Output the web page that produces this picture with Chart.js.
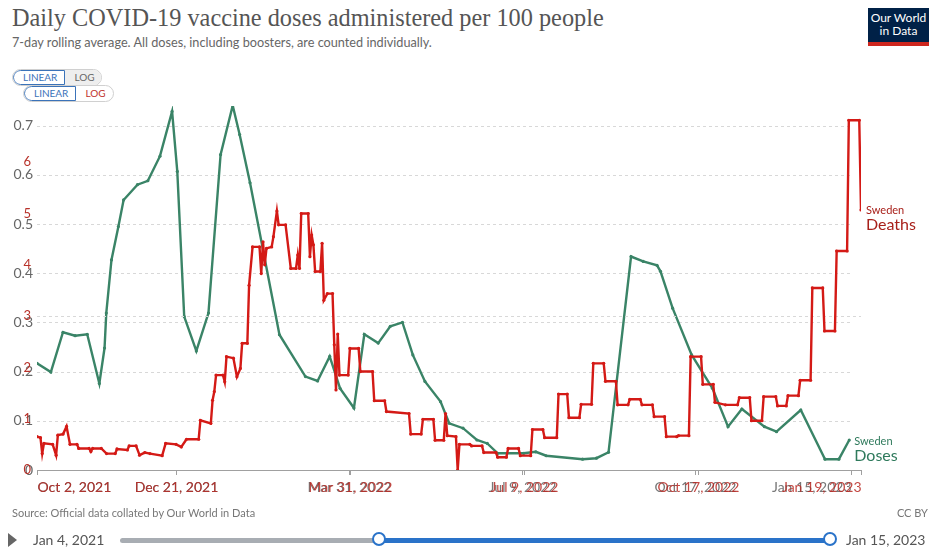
<!DOCTYPE html>
<html>
<head>
<meta charset="utf-8">
<title>Daily COVID-19 vaccine doses administered per 100 people</title>
<script src="https://cdn.jsdelivr.net/npm/chart.js@4.4.0/dist/chart.umd.min.js"></script>
<style>
  body { margin: 0; background: #fff; font-family: Lato, sans-serif; }
  #wrap { position: relative; width: 940px; height: 558px; overflow: hidden; }
  #wrap canvas { position: absolute; left: 0; top: 0; }
  .title { position: absolute; left: 12px; top: 4px; font-family: "Liberation Serif", "DejaVu Serif", serif; font-size: 24.3px; color: #555; white-space: nowrap; }
  .subtitle { position: absolute; left: 12px; top: 34px; font-size: 12.7px; color: #666; white-space: nowrap; }
  .logo { position: absolute; left: 868px; top: 8px; width: 61px; height: 31px; background: #002147; border-bottom: 4px solid #ce261e; color: #fff; font-size: 12px; line-height: 13px; text-align: center; padding-top: 3px; box-sizing: content-box; }
  .toggle { position: absolute; height: 17px; border: 1px solid #d0d0d0; border-radius: 9px; display: flex; font-size: 10px; overflow: hidden; box-sizing: border-box; }
  .toggle .lin { border: 1px solid #3b73b9; border-radius: 9px 0 0 9px; color: #3b73b9; padding: 0 7px 0 9px; line-height: 13px; }
  .toggle .log { padding: 0 9px; line-height: 15px; }
  .source { position: absolute; left: 12px; top: 506px; font-size: 11px; color: #777; }
  .ccby { position: absolute; right: 12px; top: 506px; font-size: 11px; color: #777; }
  .play { position: absolute; left: 8px; top: 533px; width: 0; height: 0; border-left: 9px solid #666; border-top: 7px solid transparent; border-bottom: 7px solid transparent; }
  .date { position: absolute; top: 531px; font-size: 14px; color: #555; }
  .track { position: absolute; top: 538px; height: 5px; border-radius: 3px; }
  .knob { position: absolute; top: 532px; width: 14px; height: 14px; border: 2px solid #2a73c9; border-radius: 50%; background: #fff; box-sizing: border-box; }
</style>
</head>
<body>
<div id="wrap">
  <div class="title">Daily COVID-19 vaccine doses administered per 100 people</div>
  <div class="subtitle">7-day rolling average. All doses, including boosters, are counted individually.</div>
  <div class="logo">Our World<br>in Data</div>
  <div class="toggle" style="left:12px;top:69px;width:90px"><span class="lin">LINEAR</span><span class="log" style="background:#eee;color:#666">LOG</span></div>
  <div class="toggle" style="left:23px;top:85px;width:91px;background:#fff"><span class="lin">LINEAR</span><span class="log" style="color:#c0312b">LOG</span></div>

  <canvas id="dosesChart" width="940" height="558"></canvas>
  <canvas id="deathsChart" width="940" height="558"></canvas>

  <div class="source">Source: Official data collated by Our World in Data</div>
  <div class="ccby">CC BY</div>
  <div class="play"></div>
  <div class="date" style="left:33px">Jan 4, 2021</div>
  <div class="track" style="left:120px;width:262px;background:#a8adb3"></div>
  <div class="track" style="left:380px;width:452px;background:#2a73c9"></div>
  <div class="knob" style="left:372px"></div>
  <div class="knob" style="left:823px"></div>
  <div class="date" style="left:846px">Jan 15, 2023</div>
</div>

<script>
// ---- data (x = days since Oct 2, 2021) ----
const tickDays = [0, 80, 180, 280, 380];
const doseTickLabels = ['Oct 2, 2021', 'Dec 21, 2021', 'Mar 31, 2022', 'Jul 9, 2022', 'Oct 17, 2022', 'Jan 15, 2023'];
const deathTickLabels = ['Oct 2, 2021', 'Dec 21, 2021', 'Mar 31, 2022', 'Jul 9, 2022', 'Oct 17, 2022', 'Jan 19, 2023'];
const doseEndDay = 470;
const deathEndDay = 474;
const doseYTicks = [0, 0.1, 0.2, 0.3, 0.4, 0.5, 0.6, 0.7];
const deathYTicks = [0, 1, 2, 3, 4, 5, 6];

// Sweden, vaccine doses per 100 people
const doseDay = [0, 8, 15, 22, 29, 36, 39, 40, 43, 47, 50, 58, 64, 71, 78, 81, 85, 92, 99, 106,
  113, 117, 123, 140, 155, 162, 169, 175, 183, 189, 197, 204, 211, 217, 224, 233, 238, 246, 254, 260,
  266, 281, 288, 294, 315, 323, 330, 343, 350, 358, 360, 367, 378, 390, 399, 407, 420, 427, 441, 455,
  463, 469];
const doseRate = [0.217, 0.199, 0.280, 0.273, 0.276, 0.176, 0.248, 0.319, 0.427, 0.495, 0.549, 0.580, 0.588, 0.638, 0.729, 0.607, 0.312, 0.242, 0.319, 0.641,
  0.741, 0.682, 0.584, 0.275, 0.190, 0.181, 0.231, 0.166, 0.126, 0.276, 0.258, 0.292, 0.300, 0.234, 0.180, 0.139, 0.095, 0.085, 0.061, 0.054,
  0.034, 0.034, 0.037, 0.029, 0.022, 0.024, 0.036, 0.434, 0.424, 0.416, 0.404, 0.329, 0.234, 0.166, 0.088, 0.124, 0.088, 0.078, 0.122, 0.022,
  0.022, 0.061];

// Sweden, deaths
const deathDay = [0, 2, 3, 4, 9, 11, 12, 15, 17, 19, 23, 24, 30, 31, 32, 37, 40, 45, 46, 52,
  53, 57, 59, 62, 65, 72, 74, 80, 83, 86, 93, 94, 100, 101, 102, 103, 107, 108, 109, 113,
  115, 117, 118, 121, 122, 124, 128, 129, 130, 131, 132, 135, 136, 138, 139, 143, 146, 149, 150, 151,
  152, 156, 157, 158, 159, 160, 163, 164, 165, 167, 170, 171, 172, 173, 174, 179, 180, 185, 186, 193,
  194, 200, 201, 214, 215, 221, 222, 228, 229, 234, 235, 236, 241, 242, 243, 249, 250, 256, 257, 264,
  265, 270, 271, 277, 278, 284, 285, 291, 292, 299, 300, 305, 306, 312, 313, 319, 320, 326, 327, 333,
  334, 340, 341, 347, 348, 354, 355, 361, 362, 368, 369, 375, 376, 382, 383, 389, 390, 396, 403, 404,
  410, 411, 417, 418, 425, 426, 431, 432, 438, 439, 445, 446, 452, 453, 459, 460, 466, 467, 473, 474];
const deathRate = [0.65, 0.63, 0.32, 0.52, 0.50, 0.29, 0.68, 0.70, 0.85, 0.50, 0.50, 0.42, 0.42, 0.36, 0.42, 0.42, 0.32, 0.32, 0.41, 0.39,
  0.47, 0.47, 0.29, 0.34, 0.32, 0.28, 0.52, 0.50, 0.45, 0.60, 0.60, 0.97, 0.91, 1.36, 1.53, 1.85, 1.85, 1.72, 2.21, 2.18,
  1.82, 1.98, 2.47, 2.47, 3.60, 4.35, 4.35, 3.83, 4.45, 4.00, 4.32, 4.35, 4.55, 5.05, 4.78, 4.78, 3.93, 3.93, 4.19, 3.93,
  5.00, 5.00, 4.16, 4.58, 4.39, 3.87, 3.87, 4.42, 3.31, 3.44, 3.44, 2.44, 1.56, 2.65, 1.85, 1.85, 2.37, 2.37, 1.92, 1.92,
  1.35, 1.35, 1.14, 1.10, 0.70, 0.70, 0.99, 0.99, 0.58, 0.58, 1.10, 0.67, 0.65, 0.00, 0.50, 0.50, 0.47, 0.47, 0.34, 0.34,
  0.25, 0.25, 0.42, 0.42, 0.28, 0.28, 0.79, 0.79, 0.63, 0.63, 1.48, 1.48, 1.02, 1.02, 1.28, 1.28, 2.08, 2.08, 1.73, 1.73,
  1.27, 1.27, 1.38, 1.38, 1.27, 1.27, 1.04, 1.04, 0.65, 0.65, 0.67, 0.67, 2.21, 2.21, 1.67, 1.67, 1.32, 1.27, 1.27, 1.41,
  1.41, 0.96, 0.96, 1.43, 1.43, 1.25, 1.25, 1.45, 1.45, 1.75, 1.75, 3.55, 3.55, 2.71, 2.71, 4.27, 4.27, 6.82, 6.82, 5.07];

const GREEN = '#3a8467';
const RED = '#d41a16';

// dashed horizontal grid lines at the chosen y ticks
const dashGrid = {
  id: 'dashGrid',
  beforeDatasetsDraw(chart, args, opts) {
    const { ctx, chartArea } = chart;
    const y = chart.scales.y;
    ctx.save();
    ctx.strokeStyle = '#d8d8d8';
    ctx.lineWidth = 1;
    ctx.setLineDash([3, 3]);
    opts.values.forEach(v => {
      const py = Math.round(y.getPixelForValue(v)) + 0.5;
      ctx.beginPath();
      ctx.moveTo(chartArea.left, py);
      ctx.lineTo(chartArea.right, py);
      ctx.stroke();
    });
    ctx.restore();
  }
};

// x tick labels + tick marks drawn at scale positions (first left aligned, last right aligned)
const xLabels = {
  id: 'xLabels',
  afterDraw(chart, args, opts) {
    const { ctx, chartArea } = chart;
    const x = chart.scales.x;
    const days = tickDays.concat([x.max]);
    ctx.save();
    ctx.font = '14px Lato';
    ctx.fillStyle = opts.color;
    ctx.strokeStyle = '#a0a0a0';
    ctx.lineWidth = 1;
    ctx.textBaseline = 'middle';
    days.forEach((d, i) => {
      const px = Math.round(x.getPixelForValue(d)) + 0.5;
      ctx.beginPath();
      ctx.moveTo(px, chartArea.bottom);
      ctx.lineTo(px, chartArea.bottom + 5);
      ctx.stroke();
      ctx.textAlign = i === 0 ? 'left' : (i === days.length - 1 ? 'right' : 'center');
      ctx.fillText(opts.labels[i], px, chartArea.bottom + 17);
    });
    ctx.restore();
  }
};

// "Sweden / Doses" style label next to the last point
const endLabel = {
  id: 'endLabel',
  afterDraw(chart, args, opts) {
    const meta = chart.getDatasetMeta(0);
    const last = meta.data[meta.data.length - 1];
    const { ctx } = chart;
    ctx.save();
    ctx.textAlign = 'left';
    ctx.textBaseline = 'middle';
    ctx.fillStyle = opts.color;
    ctx.font = '11px Lato';
    ctx.fillText('Sweden', last.x + 5, last.y + opts.dy);
    ctx.font = '16px Lato';
    ctx.fillText(opts.name, last.x + 5, last.y + opts.dy + 15);
    ctx.restore();
  }
};

function makeChart(id, cfg) {
  const pts = cfg.days.map((d, i) => ({ x: d, y: cfg.values[i] }));
  return new Chart(document.getElementById(id), {
    type: 'line',
    data: {
      datasets: [{
        data: pts,
        borderColor: cfg.color,
        backgroundColor: cfg.color,
        borderWidth: 2.4,
        pointRadius: 1.6,
        pointBorderWidth: 0,
        pointBackgroundColor: cfg.color,
        tension: 0
      }]
    },
    options: {
      responsive: false,
      animation: false,
      events: [],
      layout: { padding: { left: 0, right: cfg.padRight, top: cfg.padTop, bottom: 0 } },
      scales: {
        x: {
          type: 'linear',
          min: 0,
          max: cfg.endDay,
          ticks: { display: false },
          grid: { display: false },
          border: { display: true, color: '#a0a0a0', width: 1 },
          afterFit(scale) { scale.height = 88; }
        },
        y: {
          min: 0,
          max: cfg.yMax,
          afterBuildTicks(scale) { scale.ticks = cfg.yTicks.map(v => ({ value: v })); },
          afterFit(scale) { scale.width = 37; },
          ticks: {
            color: cfg.tickColor,
            font: { family: 'Lato', size: cfg.tickSize },
            padding: cfg.tickPad,
            callback: cfg.tickFmt
          },
          grid: { display: false, drawTicks: false },
          border: { display: false }
        }
      },
      plugins: {
        legend: { display: false },
        tooltip: { enabled: false },
        dashGrid: { values: cfg.gridValues },
        xLabels: { color: cfg.labelColor, labels: cfg.tickLabels },
        endLabel: { color: cfg.nameColor, name: cfg.name, dy: cfg.labelDy }
      }
    },
    plugins: [dashGrid, xLabels, endLabel]
  });
}

makeChart('dosesChart', {
  days: doseDay, values: doseRate, color: GREEN, endDay: doseEndDay,
  yMax: 0.74, yTicks: doseYTicks, padTop: 106, padRight: 89,
  tickColor: '#666', tickSize: 14, tickPad: 4,
  tickFmt: v => (v === 0 ? '0' : v.toFixed(1)),
  gridValues: doseYTicks.slice(1),
  labelColor: '#777', tickLabels: doseTickLabels,
  name: 'Doses', nameColor: '#2f7a5c', labelDy: 1
});

makeChart('deathsChart', {
  days: deathDay, values: deathRate, color: RED, endDay: deathEndDay,
  yMax: 7, yTicks: deathYTicks, padTop: 111, padRight: 79,
  tickColor: '#b8322a', tickSize: 13, tickPad: 6,
  tickFmt: v => String(v),
  gridValues: [3],
  labelColor: 'rgba(185,40,34,0.85)', tickLabels: deathTickLabels,
  name: 'Deaths', nameColor: '#a8201a', labelDy: 0
});
</script>
</body>
</html>
